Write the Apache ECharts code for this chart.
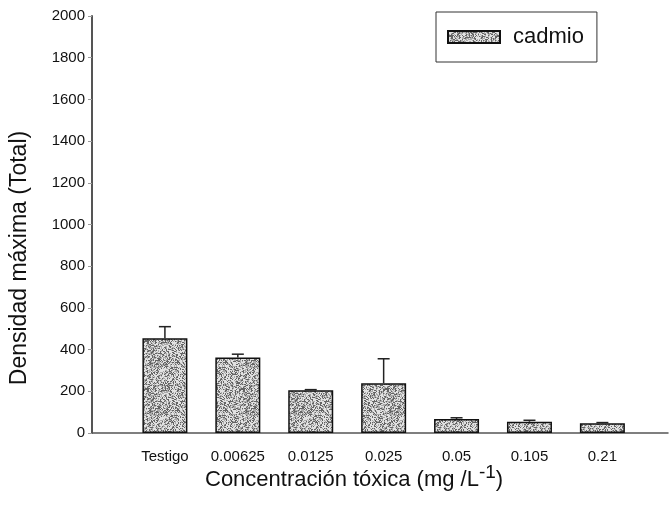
<!DOCTYPE html>
<html>
<head>
<meta charset="utf-8">
<script src="https://cdn.jsdelivr.net/npm/echarts@6/dist/echarts.min.js"></script>
<style>
  html, body { margin: 0; padding: 0; background: #fff; }
  #chart { width: 671px; height: 507px; }
</style>
</head>
<body>
<div id="chart"></div>
<script>
// Treatment groups (x axis) and measured maximum density
const categories = ['Testigo', '0.00625', '0.0125', '0.025', '0.05', '0.105', '0.21'];
const meanDensity = [455, 362, 205, 239, 67, 54, 47];
const errDensity = [55, 16, 3, 117, 6, 7, 3];
const yTicks = [0, 200, 400, 600, 800, 1000, 1200, 1400, 1600, 1800, 2000];
const seriesName = 'cadmio';

// Stippled grey fill for the bars (deterministic speckle texture)
function speckle(x, y) {
  let h = (Math.imul(x, 374761393) + Math.imul(y, 668265263)) | 0;
  h = Math.imul(h ^ (h >>> 13), 1274126177);
  return ((h ^ (h >>> 16)) >>> 0) / 4294967296;
}
function stippleTexture() {
  const c = document.createElement('canvas');
  c.width = 48; c.height = 48;
  const ctx = c.getContext('2d');
  const img = ctx.createImageData(48, 48);
  for (let y = 0; y < 48; y++) {
    for (let x = 0; x < 48; x++) {
      const v = speckle(x, y);
      const g = v < 0.28 ? 100 : v < 0.58 ? 170 : 226;
      const i = (y * 48 + x) * 4;
      img.data[i] = img.data[i + 1] = img.data[i + 2] = g;
      img.data[i + 3] = 255;
    }
  }
  ctx.putImageData(img, 0, 0);
  return c;
}
const fill = { image: stippleTexture(), repeat: 'repeat' };

// x is a numeric slot axis: slot 0 is the y axis, groups sit at slots 1..7
const barData = meanDensity.map((v, i) => [i + 1, v]);
const errData = meanDensity.map((v, i) => [i + 1, v, errDensity[i]]);

const FONT = '"Liberation Sans", Arial, sans-serif';
const chart = echarts.init(document.getElementById('chart'), null, { renderer: 'canvas' });

chart.setOption({
  animation: false,
  backgroundColor: '#fff',
  grid: { left: 92, right: 2, top: 16, bottom: 74, containLabel: false },
  legend: {
    data: [{ name: seriesName, icon: 'rect' }],
    left: 436, top: 12,
    orient: 'horizontal',
    padding: [14, 13, 14, 11],
    borderColor: '#333', borderWidth: 1,
    itemWidth: 52, itemHeight: 12,
    textStyle: { fontFamily: FONT, fontSize: 22, color: '#111', padding: [0, 0, 0, 8] }
  },
  xAxis: {
    type: 'value',
    min: 0, max: 7.9, interval: 1,
    axisLine: { show: true, lineStyle: { color: '#555', width: 1.5 } },
    axisTick: { show: false },
    axisLabel: {
      fontFamily: FONT, fontSize: 15, color: '#111', margin: 16,
      showMinLabel: true, showMaxLabel: true,
      formatter: v => (Number.isInteger(v) && v >= 1 && v <= categories.length) ? categories[v - 1] : ''
    },
    splitLine: { show: false }
  },
  yAxis: {
    type: 'value',
    min: yTicks[0], max: yTicks[yTicks.length - 1], interval: 200,
    axisLine: { show: true, lineStyle: { color: '#555', width: 2 } },
    axisTick: { show: true, length: 4, lineStyle: { color: '#999' } },
    axisLabel: { fontFamily: FONT, fontSize: 15, color: '#111', margin: 7, formatter: v => String(v) },
    splitLine: { show: false }
  },
  series: [
    {
      name: seriesName,
      type: 'bar',
      data: barData,
      barWidth: 45,
      itemStyle: { color: fill, borderColor: '#111', borderWidth: 1.5 }
    },
    {
      type: 'custom',
      name: 'error',
      data: errData,
      z: 5,
      renderItem: function (params, api) {
        const base = api.coord([api.value(0), api.value(1)]);
        const top = api.coord([api.value(0), api.value(1) + api.value(2)]);
        const cap = 6;
        const style = { stroke: '#222', lineWidth: 1.5 };
        return {
          type: 'group',
          children: [
            { type: 'line', shape: { x1: base[0], y1: base[1], x2: top[0], y2: top[1] }, style: style },
            { type: 'line', shape: { x1: top[0] - cap, y1: top[1], x2: top[0] + cap, y2: top[1] }, style: style }
          ]
        };
      }
    }
  ],
  graphic: [
    {
      type: 'text',
      x: 20, y: 258,
      rotation: Math.PI / 2,
      style: {
        text: 'Densidad máxima (Total)',
        fontFamily: FONT, fontSize: 23, fill: '#111',
        textAlign: 'center', textVerticalAlign: 'middle'
      }
    },
    {
      type: 'text',
      x: 205, y: 477,
      style: {
        text: '{a|Concentración tóxica (mg /L}{s|-1}{a|)}',
        textAlign: 'left', textVerticalAlign: 'middle',
        rich: {
          a: { fontFamily: FONT, fontSize: 22, fill: '#111', verticalAlign: 'bottom' },
          s: { fontFamily: FONT, fontSize: 19, fill: '#111', padding: [0, 0, 9, 0], verticalAlign: 'bottom' }
        }
      }
    }
  ]
});
</script>
</body>
</html>
